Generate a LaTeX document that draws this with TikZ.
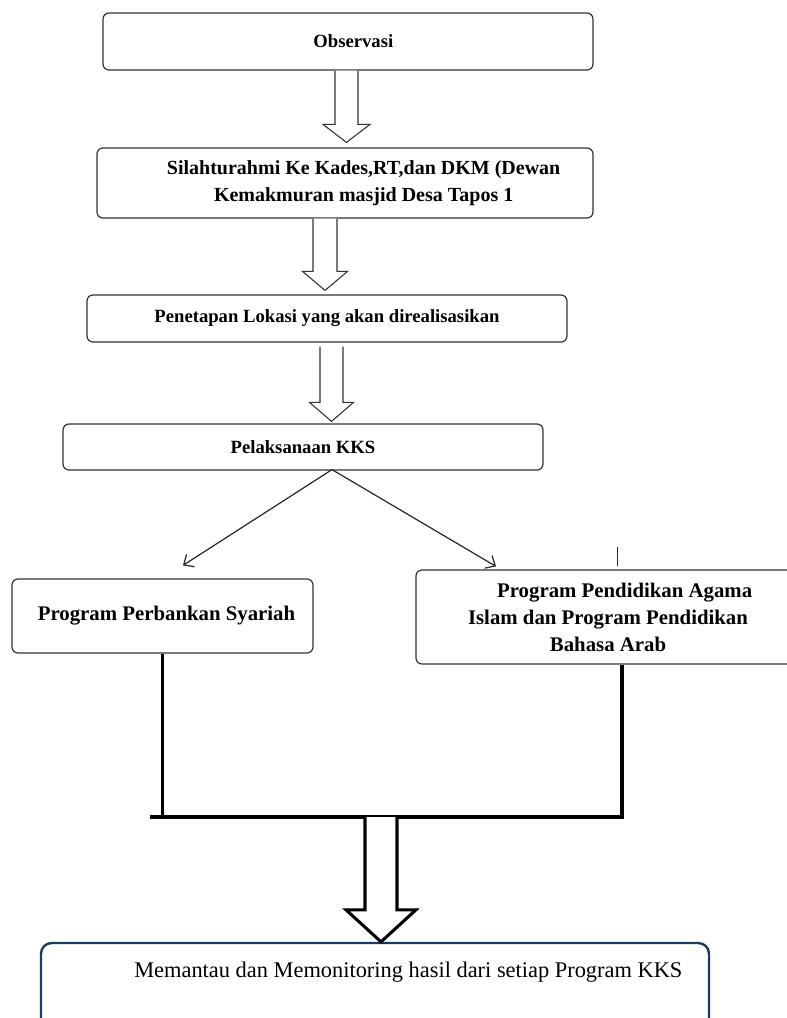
\documentclass[tikz,border=0pt]{standalone}
\usepackage{fontspec}
\setmainfont{Liberation Serif}
\usetikzlibrary{calc,arrows.meta}
\definecolor{navyline}{HTML}{1F3A5F}
\newcommand\blockarrow[7]{% #1 style, #2 x centre, #3 top coord, #4 tip coord, #5 shaft half, #6 head half, #7 head length
  \coordinate (ba-t) at (#3);
  \coordinate (ba-e) at (#4);
  \coordinate (ba-h) at ($(#4)+(0,-#7)$);
  \pgfmathsetmacro\baSL{#2-#5}\pgfmathsetmacro\baSR{#2+#5}%
  \pgfmathsetmacro\baHL{#2-#6}\pgfmathsetmacro\baHR{#2+#6}%
  \draw[#1] (\baSL,0 |- ba-t) -- (\baSL,0 |- ba-h) -- (\baHL,0 |- ba-h) -- (#2,0 |- ba-e)
     -- (\baHR,0 |- ba-h) -- (\baSR,0 |- ba-h) -- (\baSR,0 |- ba-t);
}
\begin{document}
\begin{tikzpicture}[x=0.75pt,y=-0.75pt,
  box/.style={draw=black!80, line width=0.9pt, rounded corners=4.5pt, align=center,
     inner sep=0pt, font=\bfseries\fontsize{14}{20}\selectfont},
  midbox/.style={box, font=\bfseries\fontsize{15}{20.25}\selectfont},
  lowbox/.style={box, font=\bfseries\fontsize{15.6}{20.25}\selectfont},
  bigbox/.style={draw=navyline, line width=1.8pt, rounded corners=8pt, align=center,
     inner sep=0pt, font=\fontsize{16.8}{20}\selectfont},
  blk/.style={draw=black!80, line width=0.8pt, fill=white, line join=miter},
  blkthick/.style={draw=black, line width=2.3pt, fill=white, line join=miter},
  bus/.style={draw=black, line width=2.3pt, line join=miter},
  darr/.style={draw=black!85, line width=0.9pt, -{Straight Barb[length=6pt,width=11pt]}},
  tick/.style={draw=black!85, line width=0.7pt}]
\useasboundingbox (0,0) rectangle (786,1018);
\fill[white] (0,0) rectangle (786,1018);

\node[box, minimum width=367.5pt, minimum height=42.75pt] (obs) at (348,41.5) {\hspace*{8pt}Observasi};
\node[midbox, minimum width=372pt, minimum height=52.5pt] (sil) at (345,183)
  {\hspace*{28pt}Silahturahmi Ke Kades,RT,dan DKM (Dewan\\\hspace*{28pt}Kemakmuran masjid Desa Tapos 1};
\node[box, minimum width=360pt, minimum height=35.25pt] (pen) at (327,318.5) {Penetapan Lokasi yang akan direalisasikan};
\node[box, minimum width=360pt, minimum height=34.5pt] (pel) at (303,447) {Pelaksanaan KKS};
\node[lowbox, minimum width=225.75pt, minimum height=55.5pt] (pps) at (162.5,616) {\hspace*{6pt}Program Perbankan Syariah};
\node[lowbox, minimum width=288pt, minimum height=70.5pt] (ppa) at (608,617)
  {\hspace*{25pt}Program Pendidikan Agama\\Islam dan Program Pendidikan\\Bahasa Arab};
\node[bigbox, minimum width=501pt, minimum height=82.5pt, text height=11.5pt, text depth=42pt] (mon) at (375,998)
  {\hspace*{50pt}Memantau dan Memonitoring hasil dari setiap Program KKS};

% block arrows
\coordinate (a1e) at ($(sil.north)+(0,-5)$);
\blockarrow{blk}{346.5}{obs.south}{a1e}{11.5}{23.5}{18}
\coordinate (a2e) at ($(pen.north)+(0,-4)$);
\blockarrow{blk}{325}{sil.south}{a2e}{12}{22.5}{19}
\coordinate (a3t) at ($(pen.south)+(0,4)$);
\coordinate (a3e) at ($(pel.north)+(0,-2)$);
\blockarrow{blk}{331.5}{a3t}{a3e}{11.5}{22}{19}

% diagonal arrows
\coordinate (apex) at ($(pel.south)+(29,-1)$);
\coordinate (tl) at ($(pps.north)+(20.5,-13)$);
\coordinate (tr) at ($(ppa.north)+(-112,-3)$);
\draw[darr] (apex) -- (tl);
\draw[darr] (apex) -- (tr);
\draw[tick] ($(ppa.north)+(9,-22)$) -- ($(ppa.north)+(9,-3)$);

% bus
\coordinate (busL) at (150,817);
\coordinate (busR) at (622,817);
\coordinate (busM) at (381,817);
\draw[bus] (pps.south) -- (pps.south |- busL);
\draw[bus] ($(ppa.south)+(14,0)$) -- (busR) -- (busL);
\blockarrow{blkthick}{381}{busM}{mon.north}{16}{35}{32}
\end{tikzpicture}
\end{document}
